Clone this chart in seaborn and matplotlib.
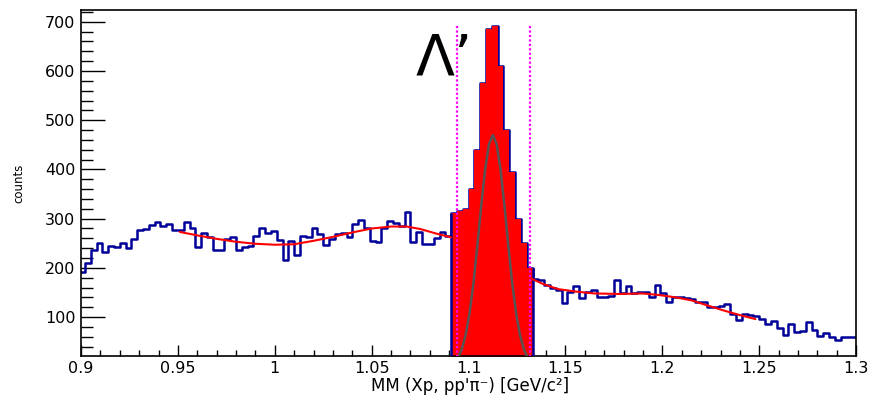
import numpy as np
import pandas as pd
import matplotlib
matplotlib.use('Agg')
import matplotlib.pyplot as plt
from matplotlib.ticker import MultipleLocator, FuncFormatter
import seaborn as sns

# histogram binning (bins of 3 MeV)
bin_start = 0.899
bin_width = 0.003

counts_left = [192, 209, 236, 250, 233, 245, 242, 251, 240, 258,
               277, 279, 287, 294, 286, 289, 276, 277, 294, 280,
               243, 270, 262, 236, 236, 258, 262, 236, 243, 245,
               264, 282, 270, 275, 256, 216, 255, 226, 265, 262,
               280, 268, 246, 259, 268, 270, 263, 290, 297, 280,
               255, 252, 280, 295, 292, 286, 313, 252, 273, 248,
               248, 260, 272, 265]
counts_peak = [311, 316, 320, 360, 440, 575, 685, 692, 610, 480,
               395, 300, 250, 200]
counts_right = [178, 175, 165, 160, 155, 129, 151, 163, 138, 150,
                155, 140, 141, 143, 176, 148, 163, 148, 150, 152,
                140, 165, 148, 131, 140, 140, 138, 136, 131, 130,
                120, 121, 122, 126, 107, 95, 106, 105, 102, 97,
                87, 92, 77, 63, 87, 70, 71, 90, 73, 61,
                67, 60, 53, 59, 59, 59]

# background fit (drawn outside the signal window)
fit_left_x = [0.951, 0.960, 0.970, 0.980, 0.990, 1.000, 1.010, 1.020,
              1.030, 1.040, 1.050, 1.060, 1.068, 1.075, 1.083, 1.091]
fit_left_y = [273, 266, 259, 253, 249, 247, 248, 255,
              263, 272, 280, 284, 284, 279, 270, 262]
fit_right_x = [1.1315, 1.133, 1.138, 1.146, 1.155, 1.165, 1.178, 1.190,
               1.198, 1.207, 1.215, 1.223, 1.232, 1.240, 1.248]
fit_right_y = [181, 177, 168, 157, 152, 148, 147, 148,
               145, 140, 134, 124, 113, 104, 96]

# signal gaussian
gauss_x = [1.0945, 1.0965, 1.0985, 1.1005, 1.1025, 1.1045, 1.1065, 1.1085,
           1.1105, 1.1125, 1.1145, 1.1165, 1.1185, 1.1205, 1.1225, 1.1245,
           1.1265, 1.1285, 1.1305]
gauss_y = [17, 35, 64, 108, 169, 245, 326, 399, 451, 470,
           451, 399, 326, 245, 169, 108, 64, 35, 17]

window = [1.0938, 1.1315]
window_top = 692
peak_label = 'Λ’'

counts = counts_left + counts_peak + counts_right
edges = bin_start + bin_width * np.arange(len(counts) + 1)
centers = edges[:-1] + bin_width / 2
df = pd.DataFrame({'mm': centers, 'counts': counts})
i0 = len(counts_left)
i1 = i0 + len(counts_peak)
df_peak = df.iloc[i0:i1]

sns.set_theme(style='white')
plt.rcParams['font.family'] = ['DejaVu Sans']

navy = '#000099'
fig = plt.figure(figsize=(8.71, 3.97), dpi=100)
ax = fig.add_axes([0.093, 0.1033, 0.89, 0.8717])

sns.histplot(data=df, x='mm', weights='counts', bins=list(edges), element='step',
             fill=False, color=navy, linewidth=1.8, ax=ax, zorder=2)
sns.histplot(data=df_peak, x='mm', weights='counts', bins=list(edges[i0:i1 + 1]),
             element='step', fill=True, color='#ff0000', alpha=1, linewidth=0,
             ax=ax, zorder=2.5)
ax.vlines([edges[i0], edges[i1]], ymin=0, ymax=[counts_peak[0], counts_peak[-1]],
          colors=navy, linewidth=1.8, zorder=3)

sns.lineplot(x=fit_left_x, y=fit_left_y, color='#ff0000', linewidth=1.5, ax=ax, zorder=3)
sns.lineplot(x=fit_right_x, y=fit_right_y, color='#ff0000', linewidth=1.5, ax=ax, zorder=3)
sns.lineplot(x=gauss_x, y=gauss_y, color='#555555', linewidth=1.8, ax=ax, zorder=3.5)

ax.vlines(window, ymin=0, ymax=window_top, colors='#ff00ff',
          linestyles=(0, (1, 1)), linewidth=1.6, zorder=4)

ax.text(1.0726, 590, peak_label, fontsize=41, ha='left', va='baseline', color='black')

ax.set_xlim(0.9, 1.3)
ax.set_ylim(21, 724)
ax.xaxis.set_major_locator(MultipleLocator(0.05))
ax.xaxis.set_minor_locator(MultipleLocator(0.01))
ax.yaxis.set_major_locator(MultipleLocator(100))
ax.yaxis.set_minor_locator(MultipleLocator(20))
fmt = FuncFormatter(lambda v, p: f'{v:g}')
ax.xaxis.set_major_formatter(fmt)
ax.yaxis.set_major_formatter(fmt)

ax.tick_params(which='both', direction='in', colors='black', labelcolor='black', width=1,
               bottom=True, left=True, top=False, right=False, labelsize=11.5)
ax.tick_params(axis='y', which='major', length=17, pad=4)
ax.tick_params(axis='y', which='minor', length=8.6)
ax.tick_params(axis='x', which='major', length=8, pad=3.5)
ax.tick_params(axis='x', which='minor', length=4.3)
for s in ax.spines.values():
    s.set_visible(True)
    s.set_color('black')
    s.set_linewidth(1.2)

ax.set_xlabel('MM (Xp, pp\'π⁻) [GeV/c²]', fontsize=12, color='black')
ax.xaxis.set_label_coords(0.502, -0.06)
ax.set_ylabel('counts', fontsize=8.5, color='black')
ax.yaxis.set_label_coords(-0.072, 0.5)

fig.savefig('out.png', dpi=100)
